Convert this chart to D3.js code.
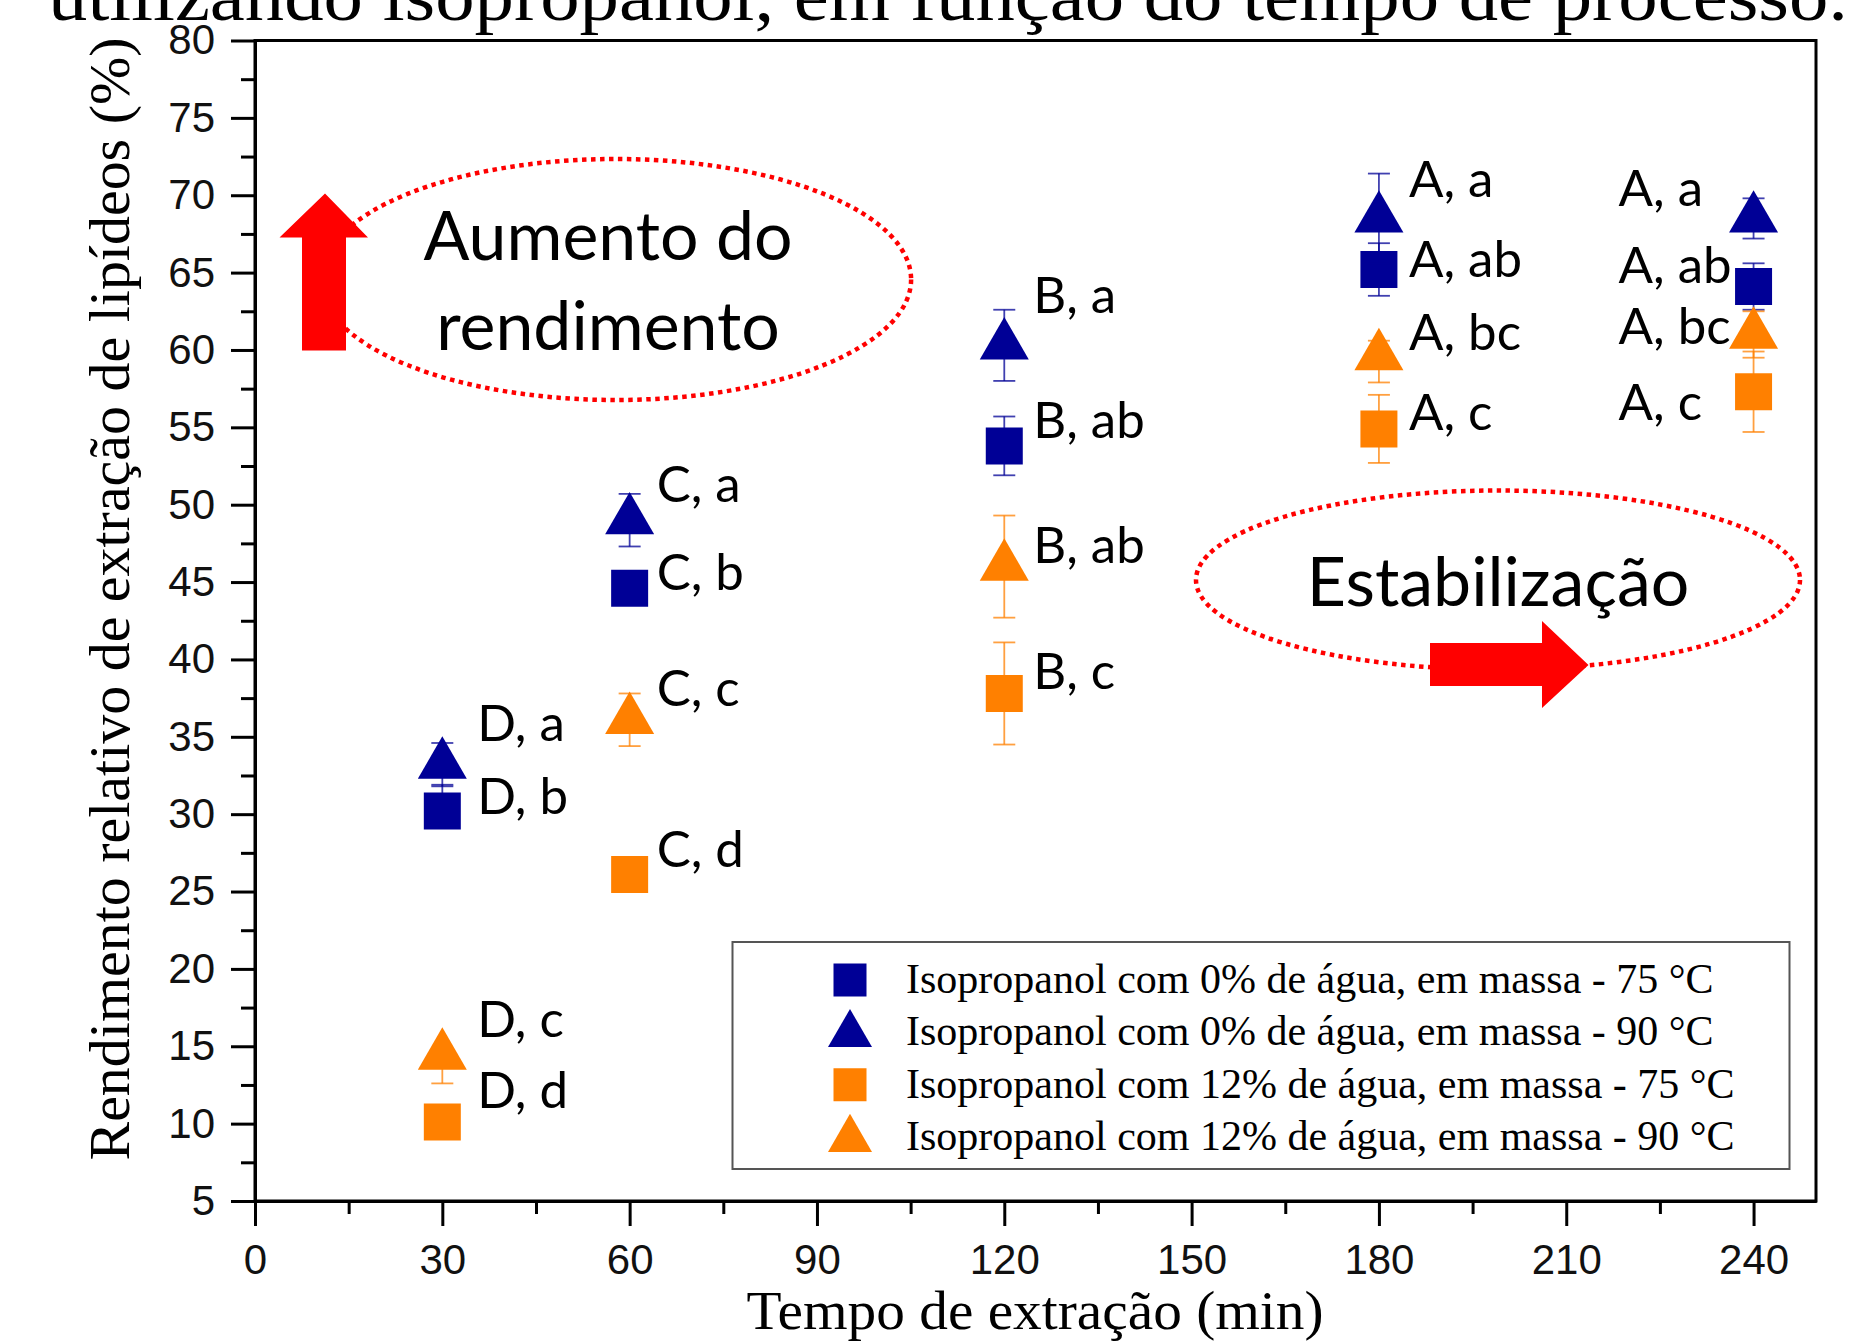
<!DOCTYPE html>
<html lang="pt">
<head>
    <meta charset="UTF-8">
    <title>Rendimento relativo de extração de lipídeos</title>
    <script src="https://d3js.org/d3.v7.min.js"></script>
    <style>
        body {
            margin: 0;
            background: #ffffff;
        }
        .tick text {
            font-family: 'Liberation Sans', Arial, sans-serif;
            font-size: 42px;
            fill: #111;
        }
        .axis path, .axis line {
            stroke: #000;
            stroke-width: 3px;
        }
        .serif {
            font-family: 'Liberation Serif', 'Times New Roman', serif;
            fill: #000;
        }
        .letter {
            font-family: 'Lato', 'Open Sans', sans-serif;
            font-size: 51px;
            fill: #000;
        }
        .note {
            font-family: 'Lato', 'Open Sans', sans-serif;
            font-size: 68px;
            fill: #000;
        }
        .oval {
            fill: none;
            stroke: #ff0000;
            stroke-width: 4.5px;
            stroke-dasharray: 4.5 4.5;
        }
    </style>
</head>
<body>
<div id="chart"></div>
<script>
    // extraction time (min)
    const times = [30, 60, 120, 180, 240];

    const seriesNames = [
        "Isopropanol com 0% de água, em massa - 75 °C",
        "Isopropanol com 0% de água, em massa - 90 °C",
        "Isopropanol com 12% de água, em massa - 75 °C",
        "Isopropanol com 12% de água, em massa - 90 °C"
    ];

    // relative lipid yield (%) with upper / lower error
    const agua0_75 = [30.2, 44.6, 53.8, 65.2, 64.1];
    const agua0_75ErrUp = [1.7, 0.8, 1.9, 1.7, 1.5];
    const agua0_75ErrDown = [0.5, 0.8, 1.9, 1.7, 1.5];
    const agua0_90 = [33.2, 49.0, 60.3, 68.5, 68.5];
    const agua0_90ErrUp = [1.4, 1.7, 2.3, 2.9, 1.3];
    const agua0_90ErrDown = [1.4, 1.7, 2.3, 2.9, 1.3];
    const agua12_75 = [10.1, 26.1, 37.8, 54.9, 57.3];
    const agua12_75ErrUp = [0.8, 0.5, 3.3, 2.2, 2.6];
    const agua12_75ErrDown = [0.8, 0.5, 3.3, 2.2, 2.6];
    const agua12_90 = [14.4, 36.1, 46.0, 59.6, 61.0];
    const agua12_90ErrUp = [0.3, 1.7, 3.3, 1.0, 1.5];
    const agua12_90ErrDown = [1.8, 1.7, 3.3, 1.7, 1.5];

    // significance letters and the height (in %) where each one sits
    const agua0_75Letters = ["D, b", "C, b", "B, ab", "A, ab", "A, ab"];
    const agua0_75LetterY = [30.0, 44.5, 54.3, 64.7, 64.3];
    const agua0_90Letters = ["D, a", "C, a", "B, a", "A, a", "A, a"];
    const agua0_90LetterY = [34.7, 50.2, 62.4, 69.9, 69.3];
    const agua12_75Letters = ["D, d", "C, d", "B, c", "A, c", "A, c"];
    const agua12_75LetterY = [11.0, 26.6, 38.1, 54.8, 55.5];
    const agua12_90Letters = ["D, c", "C, c", "B, ab", "A, bc", "A, bc"];
    const agua12_90LetterY = [15.6, 37.0, 46.2, 60.0, 60.4];

    const xMajorTicks = [0, 30, 60, 90, 120, 150, 180, 210, 240];
    const xMinorTicks = [15, 45, 75, 105, 135, 165, 195, 225];
    const yMajorTicks = [5, 10, 15, 20, 25, 30, 35, 40, 45, 50, 55, 60, 65, 70, 75, 80];
    const yMinorTicks = [7.5, 12.5, 17.5, 22.5, 27.5, 32.5, 37.5, 42.5, 47.5, 52.5, 57.5, 62.5, 67.5, 72.5, 77.5];

    const blue = "#000096";
    const orange = "#ff8000";

    const series = [
        {name: seriesNames[0], values: agua0_75, up: agua0_75ErrUp, down: agua0_75ErrDown, letters: agua0_75Letters, letterY: agua0_75LetterY, color: blue, shape: "square"},
        {name: seriesNames[1], values: agua0_90, up: agua0_90ErrUp, down: agua0_90ErrDown, letters: agua0_90Letters, letterY: agua0_90LetterY, color: blue, shape: "triangle"},
        {name: seriesNames[2], values: agua12_75, up: agua12_75ErrUp, down: agua12_75ErrDown, letters: agua12_75Letters, letterY: agua12_75LetterY, color: orange, shape: "square"},
        {name: seriesNames[3], values: agua12_90, up: agua12_90ErrUp, down: agua12_90ErrDown, letters: agua12_90Letters, letterY: agua12_90LetterY, color: orange, shape: "triangle"}
    ];

    const W = 1873, H = 1341;
    const margin = {top: 40.5, right: 57, bottom: 140, left: 255},
        width = W - margin.left - margin.right,
        height = H - margin.top - margin.bottom;

    const x = d3.scaleLinear().domain([0, 250]).range([0, width]);
    const y = d3.scaleLinear().domain([5, 80]).range([height, 0]);

    const svg = d3.select("#chart")
        .append("svg")
        .attr("width", W)
        .attr("height", H);

    // caption line cut off at the top of the picture
    svg.append("text")
        .attr("class", "serif")
        .attr("x", 48)
        .attr("y", 20)
        .attr("textLength", 1800)
        .attr("lengthAdjust", "spacingAndGlyphs")
        .style("font-size", "72px")
        .text("utilizando isopropanol, em função do tempo de processo.");

    const g = svg.append("g")
        .attr("transform", "translate(" + margin.left + "," + margin.top + ")");

    // frame
    g.append("rect")
        .attr("width", width)
        .attr("height", height)
        .attr("fill", "none")
        .attr("stroke", "#000")
        .attr("stroke-width", 3);

    // axes
    g.append("g")
        .attr("class", "axis")
        .attr("transform", "translate(0," + height + ")")
        .call(d3.axisBottom(x).tickValues(xMinorTicks).tickSize(13).tickSizeOuter(0).tickFormat(""));
    g.append("g")
        .attr("class", "axis")
        .attr("transform", "translate(0," + height + ")")
        .call(d3.axisBottom(x).tickValues(xMajorTicks).tickSize(25).tickSizeOuter(0).tickPadding(18));
    g.append("g")
        .attr("class", "axis")
        .call(d3.axisLeft(y).tickValues(yMinorTicks).tickSize(14).tickSizeOuter(0).tickFormat(""));
    g.append("g")
        .attr("class", "axis")
        .call(d3.axisLeft(y).tickValues(yMajorTicks).tickSize(24).tickSizeOuter(0).tickPadding(16));

    // axis titles
    svg.append("text")
        .attr("class", "serif")
        .attr("x", 1035)
        .attr("y", 1329)
        .attr("text-anchor", "middle")
        .attr("textLength", 577)
        .attr("lengthAdjust", "spacingAndGlyphs")
        .style("font-size", "54px")
        .text("Tempo de extração (min)");

    svg.append("text")
        .attr("class", "serif")
        .attr("transform", "rotate(-90)")
        .attr("x", -599)
        .attr("y", 129)
        .attr("text-anchor", "middle")
        .attr("textLength", 1123)
        .attr("lengthAdjust", "spacingAndGlyphs")
        .style("font-size", "56px")
        .text("Rendimento relativo de extração de lipídeos (%)");

    // annotations: ovals, arrows and notes
    g.append("ellipse")
        .attr("class", "oval")
        .attr("cx", 615.6 - margin.left).attr("cy", 279.5 - margin.top)
        .attr("rx", 295.5).attr("ry", 120.5);
    g.append("ellipse")
        .attr("class", "oval")
        .attr("cx", 1498 - margin.left).attr("cy", 580 - margin.top)
        .attr("rx", 302).attr("ry", 89.5);

    const arrowUp = [[325, 193.5], [368, 237.5], [346, 237.5], [346, 350.5], [302, 350.5], [302, 237.5], [279.5, 237.5]];
    const arrowRight = [[1430, 643], [1542, 643], [1542, 621], [1588.5, 665], [1542, 708], [1542, 686], [1430, 686]];
    [arrowUp, arrowRight].forEach(function(pts) {
        svg.append("path")
            .attr("d", d3.line()(pts) + "Z")
            .attr("fill", "#ff0000");
    });

    svg.append("text").attr("class", "note")
        .attr("x", 608).attr("y", 260).attr("text-anchor", "middle")
        .text("Aumento do");
    svg.append("text").attr("class", "note")
        .attr("x", 608).attr("y", 350).attr("text-anchor", "middle")
        .text("rendimento");
    svg.append("text").attr("class", "note")
        .attr("x", 1498).attr("y", 606).attr("text-anchor", "middle")
        .text("Estabilização");

    // symbols
    const markerSize = {square: 1369, triangle: 1040};
    const legendSize = {square: 1089, triangle: 838};
    function symType(shape) {
        return shape === "square" ? d3.symbolSquare : d3.symbolTriangle;
    }

    // letter offsets from each time point (px); last column sits to the left
    const letterDx = [35, 27, 29, 30, -135];

    series.forEach(function(s) {
        const pts = times.map(function(t, i) {
            return {t: t, v: s.values[i], hi: s.values[i] + s.up[i], lo: s.values[i] - s.down[i],
                    label: s.letters[i], ly: s.letterY[i], i: i};
        });

        const sg = g.append("g");

        // error bars
        const eb = sg.selectAll(".err")
            .data(pts)
            .enter().append("g")
            .attr("stroke", s.color)
            .attr("stroke-width", 1.8)
            .attr("stroke-opacity", 0.75);
        eb.append("line")
            .attr("x1", function(d) { return x(d.t); })
            .attr("x2", function(d) { return x(d.t); })
            .attr("y1", function(d) { return y(d.lo); })
            .attr("y2", function(d) { return y(d.hi); });
        eb.append("line")
            .attr("x1", function(d) { return x(d.t) - 11; })
            .attr("x2", function(d) { return x(d.t) + 11; })
            .attr("y1", function(d) { return y(d.hi); })
            .attr("y2", function(d) { return y(d.hi); });
        eb.append("line")
            .attr("x1", function(d) { return x(d.t) - 11; })
            .attr("x2", function(d) { return x(d.t) + 11; })
            .attr("y1", function(d) { return y(d.lo); })
            .attr("y2", function(d) { return y(d.lo); });

        // markers
        sg.selectAll(".mark")
            .data(pts)
            .enter().append("path")
            .attr("d", d3.symbol().type(symType(s.shape)).size(markerSize[s.shape]))
            .attr("transform", function(d) { return "translate(" + x(d.t) + "," + y(d.v) + ")"; })
            .attr("fill", s.color);

        // letters
        sg.selectAll(".letter")
            .data(pts)
            .enter().append("text")
            .attr("class", "letter")
            .attr("x", function(d) { return x(d.t) + letterDx[d.i]; })
            .attr("y", function(d) { return y(d.ly); })
            .text(function(d) { return d.label; });
    });

    // legend
    const legend = svg.append("g");
    legend.append("rect")
        .attr("x", 732.5).attr("y", 942)
        .attr("width", 1057).attr("height", 227)
        .attr("fill", "#fff")
        .attr("stroke", "#555")
        .attr("stroke-width", 2);

    series.forEach(function(s, i) {
        const base = 993 + i * 52.4;
        legend.append("path")
            .attr("d", d3.symbol().type(symType(s.shape)).size(legendSize[s.shape]))
            .attr("transform", "translate(850," + (s.shape === "square" ? base - 13 : base - 11) + ")")
            .attr("fill", s.color);
        legend.append("text")
            .attr("class", "serif")
            .attr("x", 906)
            .attr("y", base)
            .style("font-size", "42px")
            .text(s.name);
    });
</script>
</body>
</html>
